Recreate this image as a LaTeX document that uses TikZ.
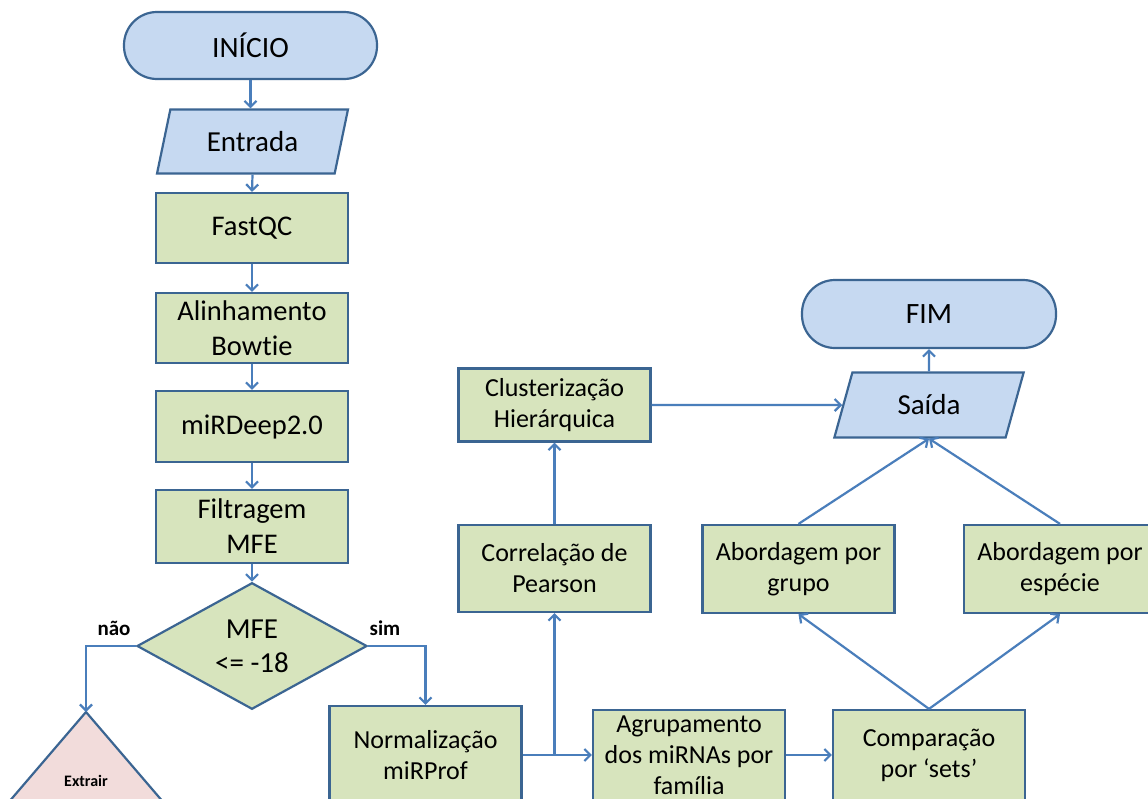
\documentclass[tikz,border=0pt]{standalone}
\usepackage{fontspec}
\setmainfont[Ligatures=NoCommon]{Carlito}
\usetikzlibrary{shapes.geometric,arrows.meta}
\definecolor{bfill}{HTML}{C6D9F1}
\definecolor{gfill}{HTML}{D7E4BD}
\definecolor{pfill}{HTML}{F2DCDB}
\definecolor{bord}{HTML}{3B6592}
\definecolor{acol}{HTML}{4A7EBB}
\begin{document}
\begin{tikzpicture}[x=1pt,y=-1pt,
  box/.style={draw=bord, fill=gfill, line width=2.2pt, minimum width=192pt, minimum height=70pt, align=center, inner sep=0pt, font=\fontsize{26}{31}\selectfont},
  lbox/.style={box, font=\fontsize{28.5}{35}\selectfont},
  term/.style={draw=bord, fill=bfill, line width=2.2pt, rounded corners=33pt, minimum width=253pt, minimum height=67pt, inner sep=0pt, font=\fontsize{29.5}{35}\selectfont},
  io/.style={trapezium, trapezium left angle=70, trapezium right angle=110, trapezium stretches=true, draw=bord, fill=bfill, line width=2.2pt, minimum width=191pt, minimum height=64pt, inner sep=0pt, font=\fontsize{29}{35}\selectfont},
  dec/.style={diamond, draw=bord, fill=gfill, line width=2.2pt, minimum width=230pt, minimum height=116pt, inner sep=0pt, align=center, font=\fontsize{29}{34}\selectfont},
  conn/.style={draw=acol, line width=2.2pt, -{Straight Barb[length=6pt,width=12pt,line width=2.2pt]}},
  lab/.style={font=\fontsize{21}{25}\selectfont\bfseries, inner sep=0pt},
]
\path[use as bounding box] (0,0) rectangle (1148,798);
\fill[white] (0,0) rectangle (1148,798);
\clip (0,0) rectangle (1148,798);

% left column
\node[term] (start) at (250.5,45.5) {INÍCIO};
\node[io] (entrada) at (252.5,141.5) {Entrada};
\node[lbox] (fastqc) at (252,228) {FastQC};
\node[lbox] (alinh) at (252,328) {Alinhamento\\Bowtie};
\node[lbox, minimum height=71pt] (mirdeep) at (252,426.5) {miRDeep2.0};
\node[lbox, minimum height=73pt] (filtr) at (252,526.5) {Filtragem\\MFE};
\node[dec] (mfe) at (252,646) {MFE\\<= -18};

% triangle
\coordinate (tri) at (86,712);
\filldraw[fill=pfill, draw=bord, line width=2.2pt] (tri) -- (230,880) -- (-58,880) -- cycle;
\node[font=\fontsize{16}{19}\selectfont\bfseries, inner sep=0pt] (extrair) at (86,781) {Extrair};

% bottom row
\node[box, minimum height=98pt] (norm) at (425.5,755) {Normalização\\miRProf};
\node[box, minimum height=90pt] (agrup) at (689,755) {Agrupamento\\dos miRNAs por\\família};
\node[box, minimum height=90pt] (comp) at (929,755) {Comparação\\por ‘sets’};

% middle
\node[box, minimum height=87pt] (corr) at (554.5,568.5) {Correlação de\\Pearson};
\node[box, minimum height=73pt] (clust) at (554.5,405) {Clusterização\\Hierárquica};
\node[box, minimum height=88pt] (abg) at (798.5,569) {Abordagem por\\grupo};
\node[box, minimum height=88pt] (abe) at (1060,569) {Abordagem por\\espécie};

% end
\node[io, minimum width=190pt, minimum height=65pt] (saida) at (929,405) {Saída};
\node[term, minimum width=254pt, minimum height=68pt] (fim) at (929,314) {FIM};

% labels
\node[lab] (nao) at (114,628) {não};
\node[lab] (sim) at (385,628) {sim};

% connectors
\draw[conn] (start.south) -- (start.south |- entrada.north);
\draw[conn] (entrada.south) -- (fastqc.north);
\draw[conn] (fastqc) -- (alinh);
\draw[conn] (alinh) -- (mirdeep);
\draw[conn] (mirdeep) -- (filtr);
\draw[conn] (filtr.south) -- (mfe.north);
\draw[conn] (mfe.west) -| (tri);
\draw[conn] (mfe.east) -| (norm.north);
\draw[conn] (norm.east) -- (agrup.west);
\coordinate (br) at (corr.south |- norm.east);
\draw[conn] (br) -- (corr.south);
\draw[conn] (agrup.east) -- (comp.west);
\draw[conn] (comp.north) -- (abg.south);
\draw[conn] (comp.north) -- (abe.south);
\draw[conn] (abg.north) -- (saida.south);
\draw[conn] (abe.north) -- (saida.south);
\draw[conn] (saida.north) -- (fim.south);
\draw[conn] (corr.north) -- (clust.south);
\draw[conn] (clust.east) -- (saida.west);
\end{tikzpicture}
\end{document}
